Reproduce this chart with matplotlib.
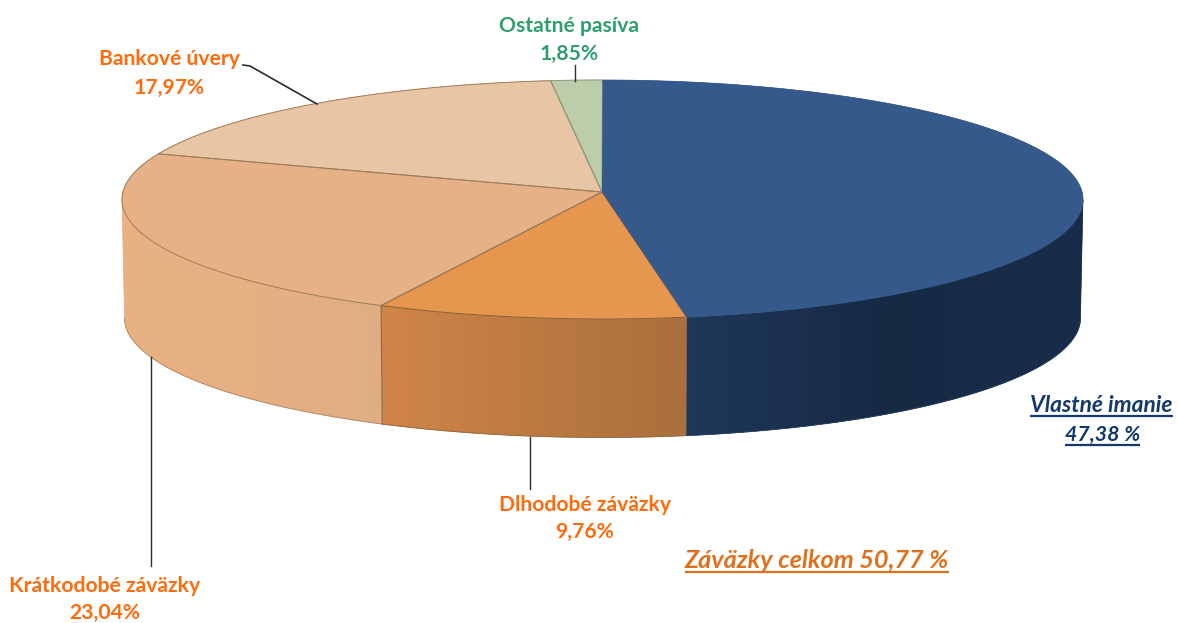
import numpy as np
import matplotlib
matplotlib.use("Agg")
import matplotlib.pyplot as plt
from matplotlib.colors import LinearSegmentedColormap
from matplotlib.patches import Polygon, Rectangle

categories = ["Vlastné imanie", "Dlhodobé záväzky", "Krátkodobé záväzky", "Bankové úvery", "Ostatné pasíva"]
shares = [47.38, 9.76, 23.04, 17.97, 1.85]
value_labels = ["47,38 %", "9,76%", "23,04%", "17,97%", "1,85%"]
total_label = "Záväzky celkom 50,77 %"

top_colors = ["#34598A", "#E5964F", "#E6B187", "#E8C5A5", "#BBCDAA"]
edge_colors = ["#2A4468", "#8A5F36", "#A07C5A", "#A07C5A", "#8A9C7A"]
# side gradients, listed from the left of each piece to its right
side_stops = [["#1F3759", "#172A44", "#192D4A"],
              ["#D08549", "#BC7A42", "#A96F3C"],
              ["#E9B283", "#E6B083", "#DEAE82"],
              ["#E8C5A5", "#E8C5A5", "#E8C5A5"],
              ["#BBCDAA", "#BBCDAA", "#BBCDAA"]]

W, H = 1178, 623
fig = plt.figure(figsize=(W / 100, H / 100), dpi=100, facecolor="white")
ax = fig.add_axes([0, 0, 1, 1])
ax.axis("off")

CX, CY, RX, RY = 602.5, 199.5, 480.5, 119.5
APEX = (602, 192)
DEPTH = 118.5
BOT_RX = 478


def warp(t):
    return t - 4 * np.sin(np.radians(t))


def pt(t, rx=RX, cy=CY):
    a = np.radians(warp(np.asarray(t, float)))
    return CX + rx * np.sin(a), cy - RY * np.cos(a)


bounds = np.concatenate([[0], np.cumsum(shares)]) / np.sum(shares) * 360
VIS_LO, VIS_HI = 94, 266

# sides
for i in range(len(shares)):
    lo, hi = max(bounds[i], VIS_LO), min(bounds[i + 1], VIS_HI)
    if hi <= lo:
        continue
    ts = np.linspace(lo, hi, 300)
    xt, yt = pt(ts)
    xb, yb = pt(ts, BOT_RX, CY + DEPTH)
    verts = list(zip(xt, yt)) + list(zip(xb[::-1], yb[::-1]))
    clip = Polygon(verts, closed=True, transform=ax.transData, facecolor=side_stops[i][1],
                   edgecolor=side_stops[i][1], lw=0.4, zorder=1)
    ax.add_patch(clip)
    cmap = LinearSegmentedColormap.from_list("s", side_stops[i])
    grad = np.linspace(0, 1, 256).reshape(1, -1)
    x0, x1 = min(xt.min(), xb.min()), max(xt.max(), xb.max())
    y0, y1 = min(yt.min(), yb.min()), max(yt.max(), yb.max())
    im = ax.imshow(grad, extent=[x0, x1, y1, y0], aspect="auto", cmap=cmap, zorder=1.5,
                   interpolation="bilinear")
    im.set_clip_path(clip)
    ax.plot(xb, yb, color=edge_colors[i], lw=0.7, alpha=0.7, zorder=2)
    if i == 2:
        xa, ya = pt(np.array([lo]))
        xe, ye = pt(np.array([lo]), BOT_RX, CY + DEPTH)
        ax.plot([xa[0], xe[0]], [ya[0], ye[0]], color="#8A6A4A", lw=0.8, zorder=3)

ax.set_xlim(0, W)
ax.set_ylim(H, 0)

# top faces
for i in range(len(shares)):
    ts = np.linspace(bounds[i], bounds[i + 1], 200)
    x, y = pt(ts)
    verts = [APEX] + list(zip(x, y))
    ax.add_patch(Polygon(verts, closed=True, facecolor=top_colors[i], edgecolor=top_colors[i], lw=0.5, zorder=4))
for i in [1, 2, 3, 4]:
    ts = np.linspace(bounds[i], bounds[i + 1], 200)
    x, y = pt(ts)
    verts = [APEX] + list(zip(x, y))
    ax.add_patch(Polygon(verts, closed=True, fill=False, edgecolor=edge_colors[i], lw=0.7, zorder=5))

# blue face sits over the neighbouring outlines
ts = np.linspace(bounds[0], bounds[1], 200)
x, y = pt(ts)
ax.add_patch(Polygon([APEX] + list(zip(x, y)), closed=True, facecolor=top_colors[0], edgecolor="none", zorder=6))

# leader lines
LEAD = "#2B2B2B"
ax.plot([243, 250, 317], [65, 66, 104], color=LEAD, lw=1.2, zorder=7)
ax.plot([575, 575], [65, 81], color=LEAD, lw=1.0, zorder=7)
ax.plot([530, 530], [437, 489], color=LEAD, lw=1.0, zorder=3)
ax.plot([151, 151], [357, 566], color=LEAD, lw=1.0, zorder=3)

# labels
ORANGE = "#FF6A0D"
GREEN = "#2E9E6C"
NAVY = "#12386E"
TOTAL = "#E0701C"
FONT = dict(family="Lato", fontweight="bold", ha="center", va="center", zorder=8)
FS = 15.2


def label(x, y, s, color, fs=FS):
    return ax.text(x, y, s, color=color, fontsize=fs, **FONT)


label(569, 26, categories[4], GREEN)
label(569, 54, value_labels[4], GREEN)
label(169, 59, categories[3], ORANGE)
label(169, 88, value_labels[3], ORANGE)
label(585, 505, categories[1], ORANGE)
label(585, 532, value_labels[1], ORANGE)
label(105, 586, categories[2], ORANGE)
label(105, 613, value_labels[2], ORANGE)


def underlined(x, y, s, color, fs, uy):
    t = ax.text(x, y, s, color=color, fontsize=fs, fontstyle="italic", **FONT)
    fig.canvas.draw()
    bb = t.get_window_extent().transformed(ax.transData.inverted())
    ax.add_patch(Rectangle((bb.x0 - 3, uy), bb.width + 6, 5, facecolor="white", edgecolor="none", zorder=9))
    ax.plot([bb.x0, bb.x1], [uy, uy], color=color, lw=1.6, zorder=10, solid_capstyle="butt")


underlined(1101.5, 406, categories[0], NAVY, 16.4, 416)
underlined(1102.5, 435, value_labels[0], NAVY, 15.3, 445)
underlined(817, 561, total_label, TOTAL, 18.2, 572)

fig.savefig("out.png", dpi=100, facecolor="white")
